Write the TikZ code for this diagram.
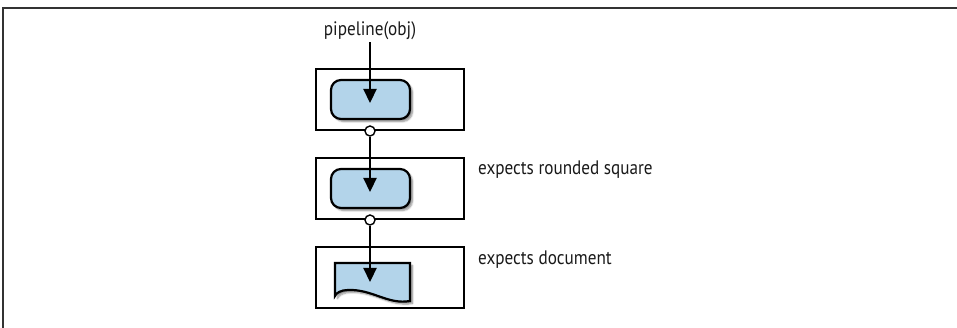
\documentclass[tikz,border=0pt]{standalone}
\usepackage{fontspec}
\newfontfamily\lblfont{PT Sans}[FakeStretch=0.88]
\usetikzlibrary{arrows.meta,shadows.blur}
\definecolor{shapeblue}{HTML}{B3D4EA}
\definecolor{framegray}{HTML}{333333}
\tikzset{
  outerbox/.style={draw=black, line width=2.4pt, minimum width=148pt, minimum height=61pt, inner sep=0pt},
  roundbox/.style={draw=black, line width=2.2pt, fill=shapeblue, rounded corners=10pt,
     minimum width=79pt, minimum height=39pt, inner sep=0pt,
     blur shadow={shadow xshift=2.5pt, shadow yshift=-2.5pt, shadow blur steps=6, shadow opacity=45}},
  docshape/.style={draw=black, line width=2.2pt, fill=shapeblue,
     blur shadow={shadow xshift=2.5pt, shadow yshift=-2.5pt, shadow blur steps=6, shadow opacity=45}},
  joint/.style={circle, draw=black, fill=white, line width=1.4pt, minimum size=10pt, inner sep=0pt},
  flow/.style={draw=black, line width=2.2pt, -{Triangle[width=13pt,length=14pt]}},
  lbl/.style={font=\lblfont\fontsize{19.5}{22}\selectfont, text=black!90, inner sep=2pt},
}
\begin{document}
\begin{tikzpicture}[x=1pt,y=-1pt]
\useasboundingbox (0,0) rectangle (957,328);
% partial page frame
\draw[framegray, line width=1.5pt] (957,8) -- (3,8) -- (3,328);
% outer boxes
\node[outerbox] (box1) at (390,99.5) {};
\node[outerbox] (box2) at (390,188.5) {};
\node[outerbox] (box3) at (390,277.5) {};
% inner shapes
\node[roundbox] (in1) at (370.5,99.5) {};
\node[roundbox] (in2) at (370.5,188.5) {};
\draw[docshape] (335,263) -- (410,263) -- (410,301)
   .. controls (388,305) and (372,289) .. (348,290)
   .. controls (341,290) and (336,293) .. (335,296) -- cycle;
% arrow tip positions
\coordinate (t1) at (370,103);
\coordinate (t2) at (370,192);
\coordinate (t3) at (370,282);
% joints
\node[joint] (c1) at (370,131) {};
\node[joint] (c2) at (370,220) {};
% labels
\node[lbl, anchor=base] (call) at (370,36) {pipeline(obj)};
\node[lbl, anchor=base west] (exp1) at (476,175) {expects rounded square};
\node[lbl, anchor=base west] (exp2) at (476,265) {expects document};
% connectors
\draw[flow] (call.south) -- (t1);
\draw[flow] (c1.south) -- (t2);
\draw[flow] (c2.south) -- (t3);
\end{tikzpicture}
\end{document}
